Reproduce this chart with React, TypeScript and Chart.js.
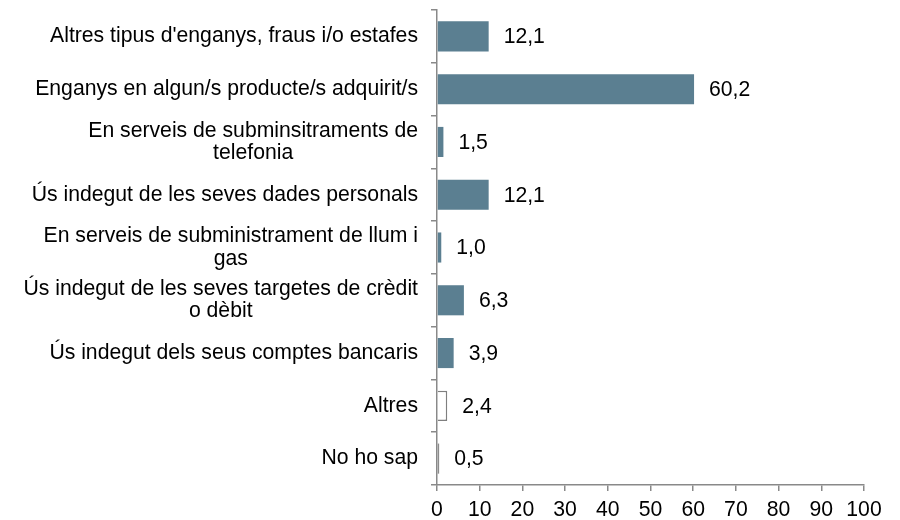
import React, { useEffect, useRef } from "react";
import { Chart, registerables } from "chart.js";

Chart.register(...registerables);

const categories: string[][] = [
  ["Altres tipus d'enganys, fraus i/o estafes"],
  ["Enganys en algun/s producte/s adquirit/s"],
  ["En serveis de subminsitraments de", "telefonia"],
  ["Ús indegut de les seves dades personals"],
  ["En serveis de subministrament de llum i", "gas"],
  ["Ús indegut de les seves targetes de crèdit", "o dèbit"],
  ["Ús indegut dels seus comptes bancaris"],
  ["Altres"],
  ["No ho sap"],
];
const values: number[] = [12.1, 60.2, 1.5, 12.1, 1.0, 6.3, 3.9, 2.4, 0.5];
const xTicks: number[] = [0, 10, 20, 30, 40, 50, 60, 70, 80, 90, 100];

const FONT = "Liberation Sans";
const FONT_SIZE = 21.2;
const BAR = "#5B7F91";
const AXIS = "#898989";

const fillColors = values.map((_, i) => (i === 7 ? "#ffffff" : i === 8 ? "#8c8c8c" : BAR));
const borderColors = values.map((_, i) => (i === 7 ? "#7f7f7f" : i === 8 ? "#8c8c8c" : BAR));
const borderWidths = values.map((_, i) => (i === 7 ? 1.5 : 0));

const fmt = (v: number) => v.toFixed(1).replace(".", ",");

const labelsPlugin = {
  id: "customLabels",
  afterDraw(chart: any) {
    const ctx = chart.ctx;
    const y = chart.scales.y;
    ctx.save();
    ctx.font = `${FONT_SIZE}px "${FONT}"`;
    ctx.fillStyle = "#000000";
    ctx.textBaseline = "middle";
    const rightEdge = 418;
    const lh = 22.5;
    categories.forEach((lines, i) => {
      const cy = y.getPixelForValue(i);
      const widths = lines.map((l) => ctx.measureText(l).width);
      const bw = Math.max(...widths);
      const cx = rightEdge - bw / 2;
      ctx.textAlign = "center";
      lines.forEach((l, j) => {
        const ly = cy + (j - (lines.length - 1) / 2) * lh;
        ctx.fillText(l, cx, ly);
      });
    });
    const meta = chart.getDatasetMeta(0);
    ctx.textAlign = "left";
    meta.data.forEach((el: any, i: number) => {
      ctx.fillText(fmt(values[i]), el.x + 15, el.y + 1);
    });
    ctx.restore();
  },
};

export default function App() {
  const ref = useRef<HTMLCanvasElement | null>(null);
  useEffect(() => {
    document.body.style.margin = "0";
    const canvas = ref.current!;
    const chart = new Chart(canvas, {
      type: "bar",
      data: {
        labels: categories.map((c) => c.join(" ")),
        datasets: [
          {
            data: values,
            backgroundColor: fillColors,
            borderColor: borderColors,
            borderWidth: borderWidths,
            barPercentage: 0.57,
            categoryPercentage: 1,
          },
        ],
      },
      options: {
        indexAxis: "y",
        responsive: false,
        animation: false,
        maintainAspectRatio: false,
        layout: { padding: { top: 10, right: 36, left: 0, bottom: 0 } },
        plugins: {
          legend: { display: false },
          tooltip: { enabled: false },
        },
        scales: {
          y: {
            type: "category",
            offset: true,
            ticks: { display: false },
            grid: {
              offset: true,
              drawOnChartArea: false,
              drawTicks: true,
              tickLength: 6,
              color: AXIS,
              lineWidth: 1.5,
            },
            border: { display: true, color: AXIS, width: 1.5 },
            afterFit: (s: any) => {
              s.width = 437;
            },
          },
          x: {
            type: "linear",
            min: 0,
            max: 100,
            afterBuildTicks: (s: any) => {
              s.ticks = xTicks.map((v) => ({ value: v }));
            },
            ticks: {
              color: "#000000",
              font: { family: FONT, size: FONT_SIZE },
              padding: 6,
              maxRotation: 0,
              autoSkip: false,
            },
            grid: {
              drawOnChartArea: false,
              drawTicks: true,
              tickLength: 6,
              color: AXIS,
              lineWidth: 1.5,
            },
            border: { display: true, color: AXIS, width: 1.5 },
            afterFit: (s: any) => {
              s.height = 35;
            },
          },
        },
      },
      plugins: [labelsPlugin],
    });
    return () => chart.destroy();
  }, []);
  return (
    <div style={{ width: 900, height: 520 }}>
      <canvas ref={ref} width={900} height={520} style={{ display: "block" }} />
    </div>
  );
}
